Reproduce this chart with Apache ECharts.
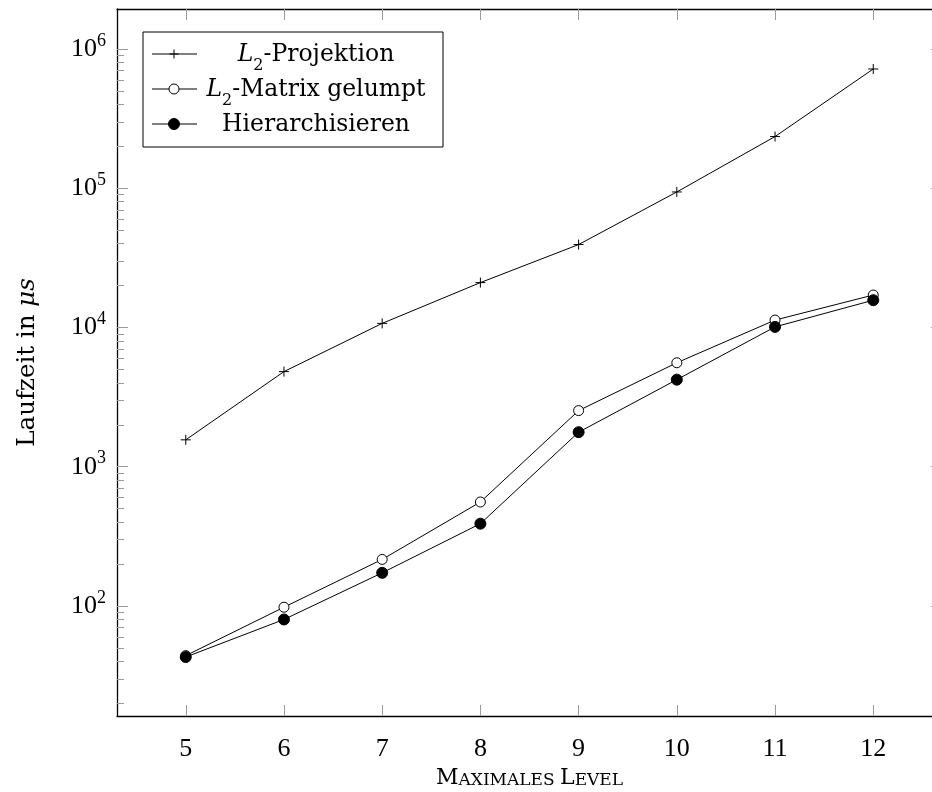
<!DOCTYPE html>
<html>
<head>
<meta charset="utf-8">
<script src="https://cdn.jsdelivr.net/npm/echarts@6/dist/echarts.min.js"></script>
<style>
  html, body { margin: 0; padding: 0; background: #fff; }
  #chart { width: 932px; height: 792px; }
</style>
</head>
<body>
<div id="chart"></div>
<script>
// Daten
const levels = [5, 6, 7, 8, 9, 10, 11, 12];
const projektion = [1560, 4820, 10700, 21000, 39400, 94000, 235000, 718000];
const gelumpt = [44, 98, 216, 558, 2530, 5580, 11300, 17100];
const hierarch = [43, 80, 173, 390, 1770, 4220, 10100, 15700];
const yMajorTicks = [1e2, 1e3, 1e4, 1e5, 1e6];
const seriesNames = ["{i|L}{sub|2}{n|-Projektion}", "{i|L}{sub|2}{n|-Matrix gelumpt}", "{n|Hierarchisieren}"];

// kleine Ticks 2..9 * 10^n
let yMinorTicks = [];
for (let n = 1; n <= 5; n++) {
  for (let k = 2; k <= 9; k++) yMinorTicks.push(k * Math.pow(10, n));
}

const FONT = "DejaVu Serif";
const NUMFONT = "Liberation Serif";
const tickGray = "#9a9a9a";
const plusPath = "path://M0,5L10,5M5,0L5,10";

const legendRich = {
  n: { fontFamily: FONT, fontSize: 23.5, verticalAlign: "top", lineHeight: 26, color: "#000" },
  i: { fontFamily: FONT, fontSize: 23.5, fontStyle: "italic", verticalAlign: "top", lineHeight: 26, color: "#000" },
  sub: { fontFamily: FONT, fontSize: 16, verticalAlign: "top", lineHeight: 16, padding: [15, 0, 0, 0], color: "#000" },
};

const marks = [
  { symbol: plusPath, size: 10, fill: "#000" },
  { symbol: "circle", size: 10, fill: "#fff" },
  { symbol: "circle", size: 11, fill: "#000" },
];
const values = [projektion, gelumpt, hierarch];

const yRange = { min: Math.pow(10, 1.21), max: Math.pow(10, 6.287) };

function yAxisCfg(pos, ticks, len, withLabel) {
  return {
    type: "log",
    position: pos,
    min: yRange.min,
    max: yRange.max,
    axisLine: { show: withLabel, lineStyle: { color: "#000", width: 1.3 } },
    axisTick: { show: true, inside: true, length: len, customValues: ticks, lineStyle: { color: tickGray, width: 1 } },
    axisLabel: {
      show: withLabel && pos === "left",
      customValues: yMajorTicks,
      margin: 11,
      formatter: (v) => "{b|10}{s|" + Math.round(Math.log10(v)) + "}",
      rich: {
        b: { fontFamily: NUMFONT, fontSize: 26, lineHeight: 26, verticalAlign: "bottom", color: "#000" },
        s: { fontFamily: NUMFONT, fontSize: 18, lineHeight: 18, verticalAlign: "bottom", padding: [0, 0, 12, 0], color: "#000" },
      },
    },
    splitLine: { show: false },
    minorTick: { show: false },
  };
}

const chart = echarts.init(document.getElementById("chart"));

// Legende als Grafik
let legendEls = [
  { type: "rect", shape: { x: 143, y: 32, width: 300, height: 115 }, style: { fill: "#fff", stroke: "#000", lineWidth: 1 }, z: 100 },
];
const rowY = [54, 89, 124];
seriesNames.forEach((name, i) => {
  const y = rowY[i];
  legendEls.push({ type: "line", shape: { x1: 152, y1: y, x2: 197, y2: y }, style: { stroke: "#000", lineWidth: 1 }, z: 101 });
  if (i === 0) {
    legendEls.push({ type: "line", shape: { x1: 169.5, y1: y, x2: 178.5, y2: y }, style: { stroke: "#000", lineWidth: 1 }, z: 102 });
    legendEls.push({ type: "line", shape: { x1: 174, y1: y - 4.5, x2: 174, y2: y + 4.5 }, style: { stroke: "#000", lineWidth: 1 }, z: 102 });
  } else {
    legendEls.push({ type: "circle", shape: { cx: 174, cy: y, r: marks[i].size / 2 }, style: { fill: marks[i].fill, stroke: "#000", lineWidth: 1 }, z: 102 });
  }
  legendEls.push({
    type: "text",
    x: 316,
    y: y + 2,
    z: 102,
    style: {
      text: name,
      align: "center",
      verticalAlign: "middle",
      fontFamily: FONT,
      fontSize: 23.5,
      fill: "#000",
      rich: legendRich,
    },
  });
});

chart.setOption({
  animation: false,
  backgroundColor: "#fff",
  textStyle: { fontFamily: FONT, color: "#000" },
  grid: { left: 117, top: 9, width: 825, height: 707, outerBoundsMode: "none" },
  xAxis: [
    {
      type: "value",
      position: "bottom",
      min: 4.3,
      max: 12.7,
      name: "{a|M}{b|AXIMALES }{a|L}{b|EVEL}",
      nameLocation: "middle",
      nameGap: 51,
      nameTextStyle: {
        rich: {
          a: { fontFamily: FONT, fontSize: 22, verticalAlign: "bottom", color: "#000" },
          b: { fontFamily: FONT, fontSize: 17, verticalAlign: "bottom", color: "#000" },
        },
      },
      axisLine: { show: true, onZero: false, lineStyle: { color: "#000", width: 1.3 } },
      axisTick: { inside: true, length: 11, customValues: levels, lineStyle: { color: tickGray, width: 1 } },
      axisLabel: { customValues: levels, fontFamily: NUMFONT, fontSize: 26, color: "#000", margin: 20 },
      splitLine: { show: false },
    },
    {
      type: "value",
      position: "top",
      min: 4.3,
      max: 12.7,
      axisLine: { show: true, onZero: false, lineStyle: { color: "#000", width: 1.3 } },
      axisTick: { inside: true, length: 11, customValues: levels, lineStyle: { color: tickGray, width: 1 } },
      axisLabel: { show: false },
      splitLine: { show: false },
    },
  ],
  yAxis: [
    Object.assign(yAxisCfg("left", yMajorTicks, 11, true), {
      name: "Laufzeit in {it|μs}",
      nameLocation: "middle",
      nameGap: 77,
      nameRotate: 90,
      nameTextStyle: {
        fontFamily: FONT,
        fontSize: 24.5,
        color: "#000",
        rich: { it: { fontFamily: FONT, fontSize: 24.5, fontStyle: "italic", color: "#000" } },
      },
    }),
    yAxisCfg("left", yMinorTicks, 7, false),
    yAxisCfg("right", yMajorTicks, 11, true),
    yAxisCfg("right", yMinorTicks, 7, false),
  ],
  series: values.map((vals, i) => ({
    name: seriesNames[i],
    type: "line",
    xAxisIndex: 0,
    yAxisIndex: 0,
    data: levels.map((x, j) => [x, vals[j]]),
    symbol: marks[i].symbol,
    symbolSize: marks[i].size,
    showAllSymbol: true,
    lineStyle: { color: "#000", width: 1 },
    itemStyle: { color: marks[i].fill, borderColor: "#000", borderWidth: 1 },
    emphasis: { disabled: true },
  })),
  graphic: legendEls,
});
</script>
</body>
</html>
